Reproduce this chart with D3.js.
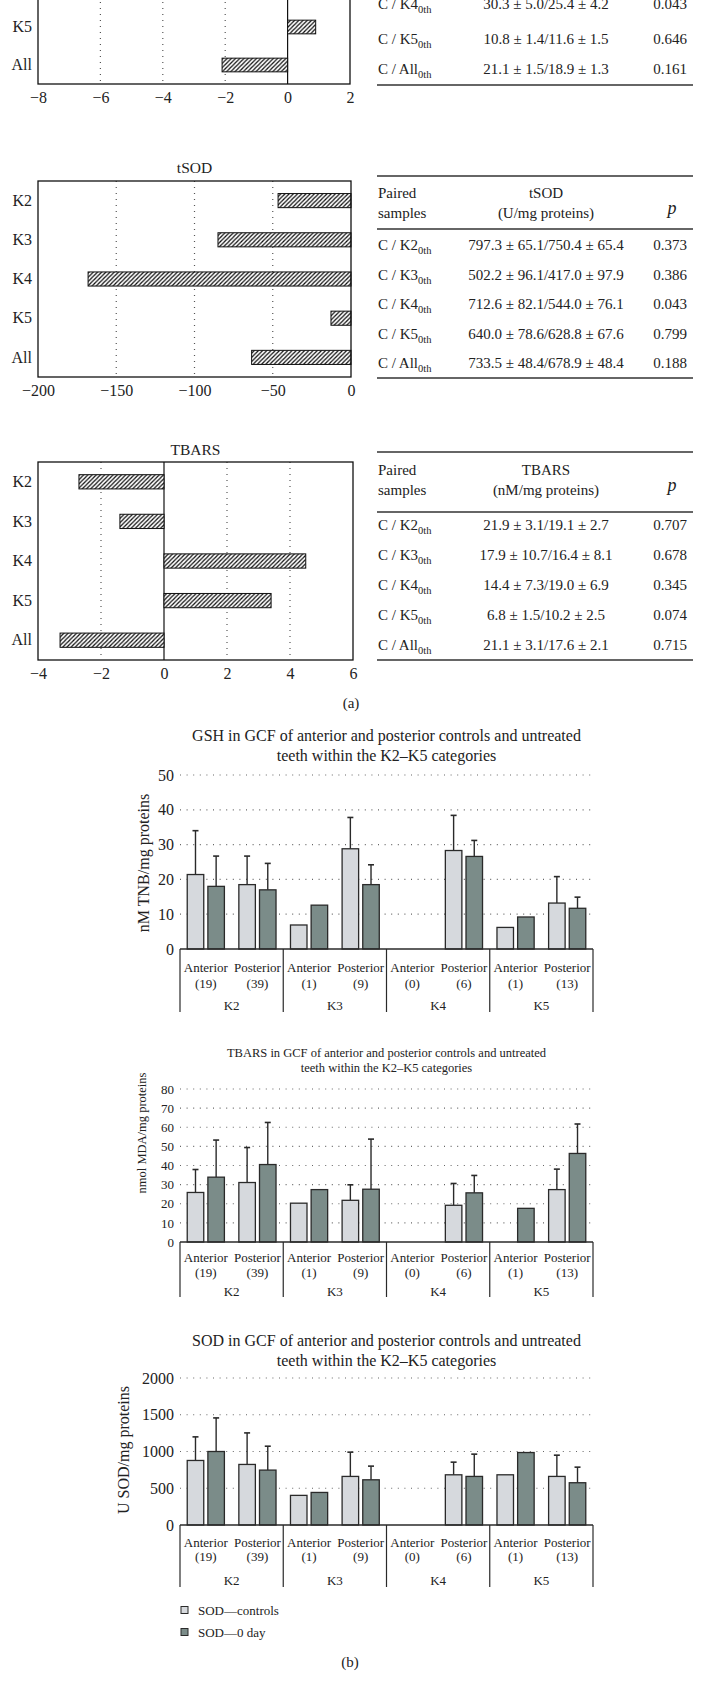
<!DOCTYPE html>
<html><head><meta charset="utf-8">
<script src="https://cdn.jsdelivr.net/npm/d3@7"></script>
<style>body{margin:0;background:#fff}svg{display:block}text{font-family:"Liberation Serif","DejaVu Serif",serif;fill:#222}</style>
</head><body><div id="c"></div>
<script>
// ---------- data: panel (a) difference charts ----------
const hCats = ["K2","K3","K4","K5","All"];
const topDiff = [null, null, -4.9, 0.9, -2.1];          // only K5/All visible (chart is cut at the top)
const topVisibleCats = ["K5","All"];
const topTicks = [-8,-6,-4,-2,0,2];
const tsodDiff = [-46.6, -85, -168, -12.8, -63.5];
const tsodTicks = [-200,-150,-100,-50,0];
const tbarsDiff = [-2.7, -1.4, 4.5, 3.4, -3.3];
const tbarsTicks = [-4,-2,0,2,4,6];

// ---------- data: panel (a) tables ----------
const topRowLabels = ["K4","K5","All"];
const topRowValues = ["30.3 ± 5.0/25.4 ± 4.2","10.8 ± 1.4/11.6 ± 1.5","21.1 ± 1.5/18.9 ± 1.3"];
const topRowP = ["0.043","0.646","0.161"];
const tsodRowLabels = ["K2","K3","K4","K5","All"];
const tsodRowValues = ["797.3 ± 65.1/750.4 ± 65.4","502.2 ± 96.1/417.0 ± 97.9","712.6 ± 82.1/544.0 ± 76.1","640.0 ± 78.6/628.8 ± 67.6","733.5 ± 48.4/678.9 ± 48.4"];
const tsodRowP = ["0.373","0.386","0.043","0.799","0.188"];
const tbarsRowValues = ["21.9 ± 3.1/19.1 ± 2.7","17.9 ± 10.7/16.4 ± 8.1","14.4 ± 7.3/19.0 ± 6.9","6.8 ± 1.5/10.2 ± 2.5","21.1 ± 3.1/17.6 ± 2.1"];
const tbarsRowP = ["0.707","0.678","0.345","0.074","0.715"];

// ---------- data: panel (b) grouped bar charts ----------
const groups = ["K2","K3","K4","K5"];
const subs = ["Anterior","Posterior"];
const counts = [19,39,1,9,0,6,1,13];
const gshCtrl   = [21.4, 18.5, 6.9, 28.8, null, 28.3, 6.2, 13.2];
const gshCtrlSd = [12.6, 8.2, null, 9.0, null, 10.1, null, 7.6];
const gshDay0   = [18.0, 17.0, 12.6, 18.5, null, 26.6, 9.2, 11.7];
const gshDay0Sd = [8.7, 7.6, null, 5.7, null, 4.6, null, 3.2];
const tbCtrl    = [25.9, 31.1, 20.3, 21.8, null, 19.2, null, 27.4];
const tbCtrlSd  = [12.0, 18.3, null, 8.1, null, 11.4, null, 10.7];
const tbDay0    = [33.9, 40.5, 27.4, 27.6, null, 25.7, 17.6, 46.3];
const tbDay0Sd  = [19.4, 22.0, null, 26.2, null, 9.1, null, 15.4];
const sodCtrl   = [878, 824, 403, 661, null, 683, 683, 661];
const sodCtrlSd = [321, 429, null, 330, null, 172, null, 289];
const sodDay0   = [1000, 747, 443, 615, null, 661, 986, 575];
const sodDay0Sd = [457, 325, null, 186, null, 303, null, 212];
const legendLabels = ["SOD—controls","SOD—0 day"];

const C_CTRL = "#d6d9dd", C_DAY0 = "#7b8c89", INK = "#2a2a2a";
const fmt = d => d < 0 ? "−" + Math.abs(d) : String(d);

const svg = d3.select("#c").append("svg").attr("width",704).attr("height",1695);
svg.append("rect").attr("width",704).attr("height",1695).attr("fill","#fff");
const defs = svg.append("defs");
const pat = defs.append("pattern").attr("id","hatch").attr("patternUnits","userSpaceOnUse")
  .attr("width",4.2).attr("height",4.2);
pat.append("rect").attr("width",4.2).attr("height",4.2).attr("fill","#fff");
pat.append("path").attr("d","M-1.05,1.05 L1.05,-1.05 M0,4.2 L4.2,0 M3.15,5.25 L5.25,3.15")
  .attr("stroke","#111").attr("stroke-width",1.25);

function hChart(o){
  const g = svg.append("g");
  const x = d3.scaleLinear().domain(o.domain).range([o.x0,o.x1]);
  const y = d3.scaleBand().domain(hCats).range([o.y0,o.y1]).paddingInner(0.64).paddingOuter(0.32);
  o.grid.forEach(t => g.append("line").attr("x1",x(t)).attr("x2",x(t)).attr("y1",o.y0).attr("y2",o.y1)
     .attr("stroke","#555").attr("stroke-width",1.2).attr("stroke-dasharray","1,5"));
  if (o.zeroLine) g.append("line").attr("x1",x(0)).attr("x2",x(0)).attr("y1",o.y0).attr("y2",o.y1)
     .attr("stroke","#111").attr("stroke-width",1.2);
  hCats.forEach((c,i) => {
    const v = o.vals[i]; if (v == null) return;
    g.append("rect").attr("x",x(Math.min(0,v))).attr("width",Math.abs(x(v)-x(0)))
      .attr("y",y(c)).attr("height",y.bandwidth())
      .attr("fill","url(#hatch)").attr("stroke","#111").attr("stroke-width",1);
  });
  g.append("rect").attr("x",o.x0).attr("y",o.y0).attr("width",o.x1-o.x0).attr("height",o.y1-o.y0)
    .attr("fill","none").attr("stroke","#111").attr("stroke-width",1.3);
  const ax = g.append("g").attr("transform",`translate(0,${o.y1})`)
    .call(d3.axisBottom(x).tickValues(o.ticks).tickSize(0).tickPadding(8).tickFormat(fmt));
  ax.select(".domain").remove();
  ax.selectAll("text").attr("font-family","Liberation Serif, serif").attr("font-size",16).attr("fill","#222");
  const ay = g.append("g").attr("transform",`translate(${o.x0},0)`)
    .call(d3.axisLeft(y).tickValues(o.labelCats || hCats).tickSize(0).tickPadding(6));
  ay.select(".domain").remove();
  ay.selectAll("text").attr("font-family","Liberation Serif, serif").attr("font-size",16).attr("fill","#222");
  if (o.title) g.append("text").attr("x",(o.x0+o.x1)/2).attr("y",o.titleY).attr("text-anchor","middle")
     .attr("font-size",15.5).text(o.title);
}

hChart({vals:topDiff, labelCats:topVisibleCats, domain:[-8,2], ticks:topTicks, grid:[-6,-4,-2], zeroLine:true, x0:38, x1:350, y0:-106, y1:84});
hChart({vals:tsodDiff, domain:[-200,0], ticks:tsodTicks, grid:[-150,-100,-50], zeroLine:false, x0:38, x1:351, y0:181, y1:377, title:"tSOD", titleY:173});
hChart({vals:tbarsDiff, domain:[-4,6], ticks:tbarsTicks, grid:[-2,2,4], zeroLine:true, x0:38, x1:353, y0:462, y1:660, title:"TBARS", titleY:455});

function rowLabel(g, x, y, k){
  const t = g.append("text").attr("x",x).attr("y",y).attr("font-size",15);
  t.append("tspan").text("C / " + k);
  t.append("tspan").attr("dy",4).attr("font-size",10.5).text("0th");
}
function table(o){
  const g = svg.append("g");
  const L = 377, R = 693, VX = 546, PX = 670;
  const rule = (y,w) => g.append("line").attr("x1",L).attr("x2",R).attr("y1",y).attr("y2",y).attr("stroke","#333").attr("stroke-width",w);
  if (o.top != null){
    rule(o.top,1.3);
    g.append("text").attr("x",378).attr("y",o.h1).attr("font-size",15).text("Paired");
    g.append("text").attr("x",378).attr("y",o.h2).attr("font-size",15).text("samples");
    g.append("text").attr("x",VX).attr("y",o.h1).attr("text-anchor","middle").attr("font-size",15).text(o.head1);
    g.append("text").attr("x",VX).attr("y",o.h2).attr("text-anchor","middle").attr("font-size",15).text(o.head2);
    g.append("text").attr("x",PX+2).attr("y",(o.h1+o.h2)/2+6).attr("text-anchor","middle").attr("font-size",18).attr("font-style","italic").text("p");
    rule(o.headRule,1.3);
  }
  o.labels.forEach((k,i) => {
    const yb = o.rowY ? o.rowY[i] : o.row0 + i*o.pitch;
    rowLabel(g, 378, yb, k);
    g.append("text").attr("x",VX).attr("y",yb).attr("text-anchor","middle").attr("font-size",15).text(o.values[i]);
    g.append("text").attr("x",PX).attr("y",yb).attr("text-anchor","middle").attr("font-size",15).text(o.p[i]);
  });
  rule(o.bottom,1.5);
}
table({top:null, labels:topRowLabels, values:topRowValues, p:topRowP, rowY:[9,44,74], bottom:85});
table({top:176, h1:198, h2:218, head1:"tSOD", head2:"(U/mg proteins)", headRule:229, labels:tsodRowLabels, values:tsodRowValues, p:tsodRowP, row0:250, pitch:29.5, bottom:378});
table({top:452, h1:475, h2:495, head1:"TBARS", head2:"(nM/mg proteins)", headRule:512, labels:tsodRowLabels, values:tbarsRowValues, p:tbarsRowP, row0:530, pitch:30, bottom:660});

svg.append("text").attr("x",351).attr("y",708).attr("text-anchor","middle").attr("font-size",15).text("(a)");

// ---------- grouped bar charts ----------
function vChart(o){
  const g = svg.append("g");
  const X0 = 180, X1 = 593;
  const outer = d3.scaleBand().domain(groups).range([X0,X1]);
  const sub = d3.scaleBand().domain(subs).range([0,outer.bandwidth()]);
  const inner = d3.scaleBand().domain(["ctrl","day0"]).range([0,sub.bandwidth()]).paddingInner(0.2).paddingOuter(0.35);
  const y = d3.scaleLinear().domain([0,o.max]).range([o.zero,o.top]);
  o.ticks.filter(t => t > 0).forEach(t => g.append("line").attr("x1",X0).attr("x2",X1).attr("y1",y(t)).attr("y2",y(t))
     .attr("stroke","#666").attr("stroke-width",1.2).attr("stroke-dasharray","1,5.6"));
  const ay = g.append("g").attr("transform",`translate(${X0},0)`)
    .call(d3.axisLeft(y).tickValues(o.ticks).tickSize(0).tickPadding(6).tickFormat(d3.format("d")));
  ay.select(".domain").remove();
  ay.selectAll("text").attr("font-family","Liberation Serif, serif").attr("font-size",o.tickFont).attr("fill","#222");
  // bars
  const series = [["ctrl",o.ctrl,o.ctrlSd,C_CTRL],["day0",o.day0,o.day0Sd,C_DAY0]];
  groups.forEach((gr,gi) => subs.forEach((s,si) => {
    const idx = gi*2+si;
    series.forEach(([key,vals,sds,col]) => {
      const v = vals[idx]; if (v == null) return;
      const bx = outer(gr)+sub(s)+inner(key), bw = inner.bandwidth();
      if (sds[idx] != null){
        const cx = bx + bw/2, ye = y(v+sds[idx]);
        g.append("line").attr("x1",cx).attr("x2",cx).attr("y1",y(v)).attr("y2",ye).attr("stroke",INK).attr("stroke-width",1.4);
        g.append("line").attr("x1",cx-3).attr("x2",cx+3).attr("y1",ye).attr("y2",ye).attr("stroke",INK).attr("stroke-width",1.6);
      }
      g.append("rect").attr("x",bx).attr("width",bw).attr("y",y(v)).attr("height",y(0)-y(v))
        .attr("fill",col).attr("stroke",INK).attr("stroke-width",1.3);
    });
  }));
  // category axis
  g.append("line").attr("x1",X0).attr("x2",X1).attr("y1",o.zero).attr("y2",o.zero).attr("stroke",INK).attr("stroke-width",1.6);
  const bounds = groups.map(gr => outer(gr)).concat([X1]);
  bounds.forEach(bx => g.append("line").attr("x1",bx).attr("x2",bx).attr("y1",o.zero).attr("y2",o.zero+o.off[3])
     .attr("stroke",INK).attr("stroke-width",1.2));
  groups.forEach((gr,gi) => {
    subs.forEach((s,si) => {
      const cx = outer(gr)+sub(s)+sub.bandwidth()/2;
      g.append("text").attr("x",cx).attr("y",o.zero+o.off[0]+4.5).attr("text-anchor","middle").attr("font-size",13).text(s);
      g.append("text").attr("x",cx).attr("y",o.zero+o.off[1]+4.5).attr("text-anchor","middle").attr("font-size",13).text("(" + counts[gi*2+si] + ")");
    });
    g.append("text").attr("x",outer(gr)+outer.bandwidth()/2).attr("y",o.zero+o.off[2]+4.5).attr("text-anchor","middle").attr("font-size",13).text(gr);
  });
  // titles
  g.append("text").attr("x",(X0+X1)/2).attr("y",o.titleY[0]).attr("text-anchor","middle").attr("font-size",o.titleFont).text(o.title[0]);
  g.append("text").attr("x",(X0+X1)/2).attr("y",o.titleY[1]).attr("text-anchor","middle").attr("font-size",o.titleFont).text(o.title[1]);
  g.append("text").attr("transform",`translate(${o.ylab[0]},${o.ylab[1]}) rotate(-90)`).attr("text-anchor","middle")
    .attr("dominant-baseline","central").attr("font-size",o.ylabFont).text(o.ylabel);
}

vChart({top:775, zero:949, max:50, ticks:[0,10,20,30,40,50], tickFont:16,
  ctrl:gshCtrl, ctrlSd:gshCtrlSd, day0:gshDay0, day0Sd:gshDay0Sd, off:[18,34,56,63],
  title:["GSH in GCF of anterior and posterior controls and untreated","teeth within the K2–K5 categories"], titleY:[741,761], titleFont:16,
  ylabel:"nM TNB/mg proteins", ylab:[143,863], ylabFont:16});
vChart({top:1089, zero:1242, max:80, ticks:[0,10,20,30,40,50,60,70,80], tickFont:13,
  ctrl:tbCtrl, ctrlSd:tbCtrlSd, day0:tbDay0, day0Sd:tbDay0Sd, off:[15,30,49,55],
  title:["TBARS in GCF of anterior and posterior controls and untreated","teeth within the K2–K5 categories"], titleY:[1057,1072], titleFont:12.5,
  ylabel:"nmol MDA/mg proteins", ylab:[142,1133], ylabFont:12.5});
vChart({top:1378, zero:1525, max:2000, ticks:[0,500,1000,1500,2000], tickFont:16,
  ctrl:sodCtrl, ctrlSd:sodCtrlSd, day0:sodDay0, day0Sd:sodDay0Sd, off:[17,31,55,62],
  title:["SOD in GCF of anterior and posterior controls and untreated","teeth within the K2–K5 categories"], titleY:[1346,1366], titleFont:16,
  ylabel:"U SOD/mg proteins", ylab:[123,1450], ylabFont:16});

// legend
const lg = svg.append("g");
legendLabels.forEach((t,i) => {
  const yc = 1610 + i*22;
  lg.append("rect").attr("x",181).attr("y",yc-3.5).attr("width",7).attr("height",7)
    .attr("fill", i ? C_DAY0 : C_CTRL).attr("stroke",INK).attr("stroke-width",1);
  lg.append("text").attr("x",198).attr("y",yc+4.5).attr("font-size",13).text(t);
});
svg.append("text").attr("x",350).attr("y",1667).attr("text-anchor","middle").attr("font-size",15).text("(b)");
</script></body></html>
